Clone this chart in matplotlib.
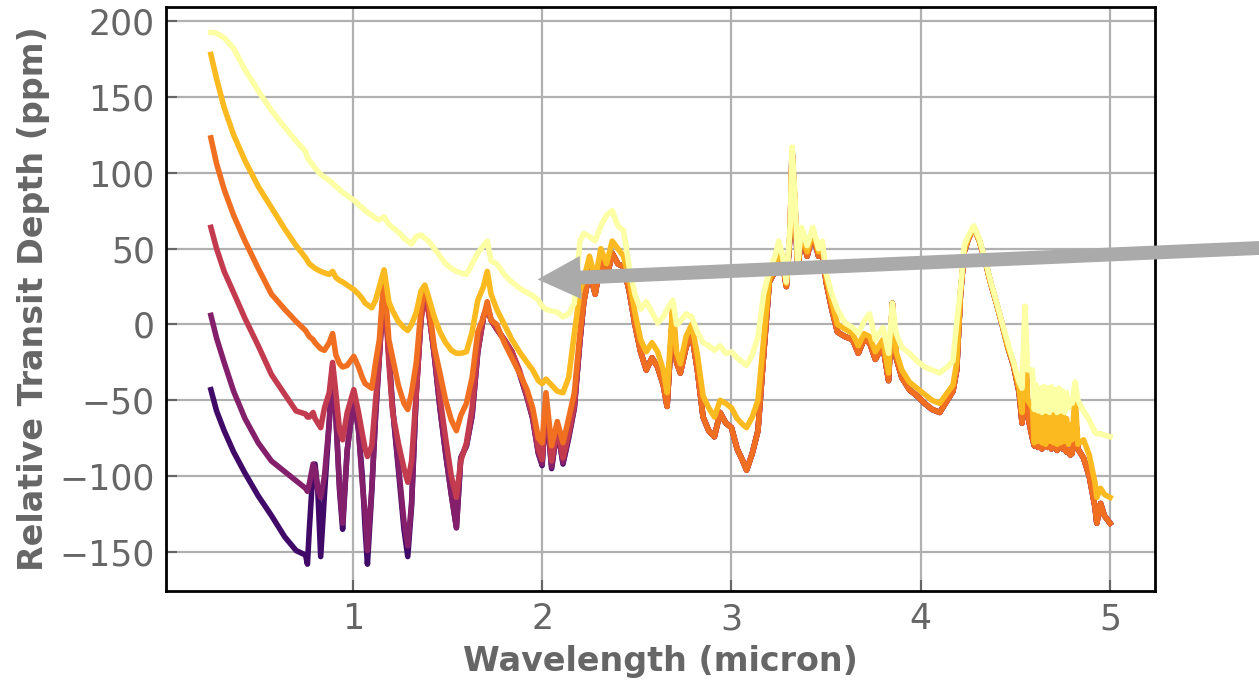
import matplotlib
matplotlib.use("Agg")
import matplotlib.pyplot as plt
import numpy as np

# ---------------- data ----------------
wl_short = [0.25, 0.28, 0.32, 0.37, 0.43, 0.50, 0.57, 0.64, 0.70, 0.75]
wl_mid = [0.76, 0.77, 0.79, 0.80, 0.815, 0.83, 0.85, 0.875, 0.893, 0.91,
          0.93, 0.946, 0.97, 1.005, 1.03, 1.05, 1.065, 1.077, 1.10, 1.12,
          1.14, 1.165, 1.19, 1.21, 1.24, 1.27, 1.29, 1.31, 1.335, 1.36,
          1.38, 1.40, 1.43, 1.46, 1.49, 1.52, 1.547, 1.57, 1.60, 1.63,
          1.66, 1.69, 1.71, 1.73, 1.76, 1.80, 1.84, 1.88, 1.92, 1.95,
          1.98, 2.00, 2.02, 2.05, 2.08, 2.11, 2.14, 2.17, 2.20]
wl_long = [2.22, 2.25, 2.28, 2.31, 2.34, 2.37, 2.40, 2.43, 2.46, 2.49,
           2.52, 2.55, 2.58, 2.61, 2.64, 2.66, 2.69, 2.71, 2.73, 2.76,
           2.79, 2.82, 2.85, 2.88, 2.91, 2.94, 2.97, 3.00, 3.03, 3.06,
           3.08, 3.11, 3.14, 3.17, 3.20, 3.23, 3.25, 3.27, 3.29, 3.31,
           3.32, 3.335, 3.35, 3.37, 3.40, 3.43, 3.46, 3.48, 3.50, 3.53,
           3.56, 3.60, 3.64, 3.67, 3.70, 3.73, 3.76, 3.80, 3.83, 3.85,
           3.87, 3.90, 3.94, 3.98, 4.02, 4.06, 4.10, 4.14, 4.17, 4.19,
           4.21, 4.23, 4.25, 4.28, 4.31, 4.34, 4.37, 4.40, 4.43, 4.46,
           4.49, 4.52, 4.535, 4.55, 4.565, 4.59, 4.60, 4.61, 4.62, 4.63,
           4.64, 4.65, 4.66, 4.67, 4.68, 4.69, 4.70, 4.71, 4.72, 4.73,
           4.74, 4.75, 4.76, 4.77, 4.78, 4.79, 4.80, 4.815, 4.83, 4.86,
           4.89, 4.92, 4.93, 4.95, 4.97, 5.00]

# short-wavelength scattering slopes (one per model)
short_1 = [-43, -57, -70, -84, -98, -113, -126, -140, -149, -152]
short_2 = [6, -9, -25, -44, -62, -78, -90, -97, -103, -108]
short_3 = [64, 50, 35, 21, 4, -14, -33, -46, -57, -59]
short_4 = [123, 106, 89, 72, 55, 37, 20, 10, 2, -4]
short_5 = [178, 162, 143, 125, 108, 91, 77, 63, 52, 44]
short_6 = [192.5, 192, 189, 182, 168, 154, 141, 130, 121, 114]

# 0.75 - 2.2 micron
mid_1 = [-158, -135, -95, -92, -110, -153, -112, -65, -28, -60,
         -110, -135, -83, -48, -70, -100, -135, -158, -110, -60,
         -21, 30, -20, -55, -95, -135, -153, -120, -45, 5,
         20, 10, -20, -55, -85, -112, -134, -88, -80, -60,
         -18, 5, 12, 3, -3, -10, -18, -32, -48, -62,
         -85, -93, -52, -95, -68, -92, -75, -55, -10]
mid_2 = [-110, -105, -92, -95, -109, -114, -100, -65, -28, -60,
         -108, -131, -83, -48, -70, -105, -125, -149, -108, -60,
         -21, 30, -20, -55, -92, -130, -146, -118, -45, 5,
         20, 10, -20, -55, -85, -112, -134, -88, -80, -60,
         -18, 5, 12, 3, -3, -10, -18, -32, -48, -62,
         -85, -92, -52, -94, -68, -91, -74, -55, -10]
mid_3 = [-61, -61, -58, -62, -65, -68, -55, -45, -25, -45,
         -70, -76, -58, -43, -58, -72, -82, -87, -80, -50,
         -20, 30, -25, -58, -78, -95, -104, -90, -45, 3,
         18, 8, -18, -48, -75, -100, -114, -90, -78, -55,
         -16, 5, 12, 3, -3, -10, -18, -30, -47, -60,
         -82, -89, -50, -90, -68, -88, -72, -53, -10]
mid_4 = [-6, -8, -10, -12, -14, -16, -17, -12, -6, -20,
         -26, -28, -27, -21, -28, -35, -39, -40, -42, -25,
         -10, 32, -10, -22, -40, -52, -56, -45, -25, 10,
         25, 15, -15, -32, -50, -63, -70, -60, -52, -35,
         -5, 5, 15, 3, 0, -12, -22, -32, -43, -55,
         -75, -78, -45, -80, -64, -78, -62, -45, -5]
mid_5 = [42, 40, 38, 37, 36, 35, 34, 33, 35, 31,
         29, 28, 26, 23, 20, 17, 14, 13, 11, 16,
         25, 36, 15, 9, 2, -2, -4, 0, 8, 22,
         26, 18, 5, -5, -12, -17, -19, -19, -18, -5,
         16, 25, 35, 20, 10, 0, -10, -18, -25, -30,
         -37, -39, -36, -40, -44, -45, -35, -6, 22]
mid_6 = [110, 108, 105, 103, 101, 99, 97, 95, 93, 91,
         89, 87, 85, 82, 79, 77, 75, 74, 72, 70,
         69, 71, 66, 64, 61, 57, 55, 53, 58, 59,
         57, 55, 50, 45, 40, 37, 35, 34, 33, 40,
         47, 52, 55, 42, 40, 33, 28, 24, 21, 19,
         16, 12, 10, 9, 8, 5, 7, 14, 55]

# 2.2 - 5 micron (the four hazier models overlap here)
long_deep = [15, 35, 20, 42, 30, 47, 40, 38, 22, 0,
             -18, -30, -22, -28, -40, -54, 9, -25, -32, -15,
             -6, -30, -61, -70, -74, -58, -65, -68, -82, -90,
             -96, -85, -70, -20, 28, 35, 45, 40, 25, 60,
             115, 80, 35, 60, 45, 60, 45, 48, 28, 10,
             -5, -8, -10, -19, -10, -12, -23, -14, -37, 14,
             -22, -35, -43, -47, -52, -56, -58, -50, -44, -30,
             20, 48, 56, 64, 55, 42, 27, 14, 0, -15,
             -27, -45, -65, -10, -60, -75, -80, -78, -81, -79,
             -82, -80, -78, -81, -79, -82, -80, -79, -83, -80,
             -78, -82, -80, -84, -83, -86, -85, -55, -82, -88,
             -100, -120, -131, -118, -126, -131]
long_5 = [30, 45, 30, 50, 40, 55, 50, 45, 30, 8,
          -10, -18, -12, -18, -30, -45, 14, -18, -26, -8,
          0, -20, -47, -55, -61, -50, -52, -55, -62, -66,
          -68, -61, -50, -10, 30, 38, 48, 42, 27, 62,
          116, 82, 37, 62, 48, 62, 48, 52, 32, 15,
          0, -3, -6, -14, -6, -8, -18, -10, -32, 14,
          -18, -30, -38, -42, -46, -50, -52, -45, -40, -25,
          22, 49, 57, 64, 55, 42, 27, 14, 0, -15,
          -25, -42, -58, 0, -50, -55, -78, -58, -77, -60,
          -78, -58, -79, -60, -77, -57, -78, -58, -79, -60,
          -78, -58, -77, -62, -79, -66, -76, -45, -79, -76,
          -86, -104, -114, -108, -112, -114]
long_6 = [60, 58, 55, 65, 72, 75, 65, 62, 38, 20,
          10, 15, 8, 1, 5, 10, 16, 0, 2, 7,
          5, -5, -12, -14, -17, -14, -19, -18, -22, -25,
          -27, -20, -8, 20, 35, 45, 55, 45, 28, 65,
          117, 85, 40, 64, 52, 64, 50, 55, 34, 20,
          10, 1, -2, -6, 2, 7, -10, -2, -19, 14,
          -6, -15, -19, -24, -28, -30, -32, -28, -24, 1,
          23, 52, 58, 65, 56, 43, 28, 15, 1, -12,
          -25, -38, -42, 12, -30, -30, -56, -40, -57, -42,
          -58, -41, -57, -42, -58, -41, -56, -43, -58, -42,
          -57, -44, -58, -45, -55, -50, -52, -38, -50, -57,
          -63, -71, -72, -72, -73, -74]

wavelength = wl_short + wl_mid + wl_long
series = [
    short_1 + mid_1 + long_deep,
    short_2 + mid_2 + long_deep,
    short_3 + mid_3 + long_deep,
    short_4 + mid_4 + long_deep,
    short_5 + mid_5 + long_5,
    short_6 + mid_6 + long_6,
]
cmap_positions = [0.2, 0.36, 0.52, 0.68, 0.84, 1.0]

# ---------------- figure ----------------
label_color = "#666666"
fig = plt.figure(figsize=(12.59, 6.85), dpi=100)
ax = fig.add_axes([0.1318, 0.1372, 0.7856, 0.8526])

for vals, cpos in zip(series, cmap_positions):
    ax.plot(wavelength, vals, color=plt.cm.inferno(cpos), lw=4.0,
            solid_joinstyle="round", zorder=3)

ax.set_xlim(0.0125, 5.2375)
ax.set_ylim(-175.7, 209.3)
ax.set_xticks([1, 2, 3, 4, 5])
ax.set_yticks([-150, -100, -50, 0, 50, 100, 150, 200])

ax.grid(True, color="#b0b0b0", lw=1.6, zorder=0)
ax.set_axisbelow(True)
for sp in ax.spines.values():
    sp.set_color("black")
    sp.set_linewidth(2.0)

ax.tick_params(direction="in", length=8, width=1.5, color="#666666",
               labelcolor=label_color, labelsize=25, pad=8)

ax.set_xlabel("Wavelength (micron)", fontsize=24, fontweight="bold",
              color=label_color)
ax.set_ylabel("Relative Transit Depth (ppm)", fontsize=24,
              fontweight="bold", color=label_color)
ax.xaxis.set_label_coords(0.5, -0.0925)
ax.yaxis.set_label_coords(-0.117, 0.5)

ax.annotate("", xy=(1.976, 29.7), xytext=(5.82, 50.6),
            xycoords="data", textcoords="data", annotation_clip=False,
            arrowprops=dict(facecolor="#aaaaaa", edgecolor="none",
                            width=10, headwidth=31, headlength=31, shrink=0),
            zorder=5)

fig.savefig("out.png", dpi=100)
